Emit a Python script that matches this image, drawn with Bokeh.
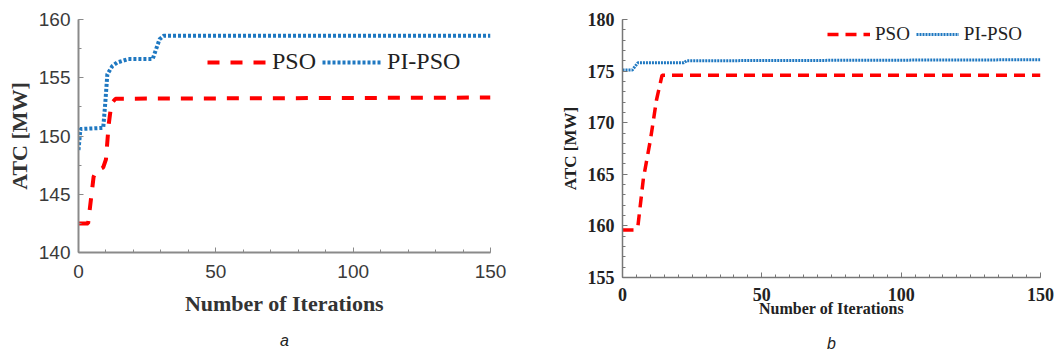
from bokeh.plotting import figure
from bokeh.layouts import row
from bokeh.models import FixedTicker, Legend, LegendItem, Title, Range1d
from bokeh.embed import file_html
from bokeh.resources import INLINE

# ---- panel a data ----
a_pso_x = [0, 3.5, 4.5, 5.5, 6.5, 9, 10, 11, 12, 13.5, 150]
a_pso_y = [142.5, 142.5, 144.5, 146.5, 147.0, 147.3, 148.0, 151.0, 152.8, 153.2, 153.3]
a_pi_x = [0, 0.7, 9, 9.8, 10.5, 12.3, 14, 18, 27, 29.5, 31, 150]
a_pi_y = [148.8, 150.6, 150.7, 153.0, 155.3, 156.0, 156.3, 156.6, 156.6, 158.3, 158.6, 158.6]
a_xticks = [0, 50, 100, 150]
a_yticks = [140, 145, 150, 155, 160]

# ---- panel b data ----
b_pso_x = [0, 4, 5.5, 7.5, 10, 12.2, 14.2, 150]
b_pso_y = [159.6, 159.6, 159.9, 164.6, 168.3, 172.2, 174.6, 174.6]
b_pi_x = [0, 3.5, 5.5, 22, 23, 150]
b_pi_y = [175.1, 175.1, 175.8, 175.8, 176.0, 176.1]
b_xticks = [0, 50, 100, 150]
b_yticks = [155, 160, 165, 170, 175, 180]

series_names = ["PSO", "PI-PSO"]
captions = ["a", "b"]

RED = "#ff0000"
BLUE = "#1f78c1"
SERIF = "Liberation Serif"
SANS = "Liberation Sans"


def style_common(p):
    p.grid.visible = False
    p.outline_line_color = None
    p.background_fill_color = "white"
    p.border_fill_color = "white"
    for ax in (p.xaxis[0], p.yaxis[0]):
        ax.major_tick_in = 5
        ax.major_tick_out = 0
        ax.minor_tick_in = 3
        ax.minor_tick_out = 0


# ---------------- panel a ----------------
pa = figure(width=529, height=357, output_backend="svg", toolbar_location=None,
            x_range=Range1d(0, 150), y_range=Range1d(140, 160),
            min_border_left=78, min_border_right=39, min_border_top=18, min_border_bottom=106)
pa.frame_width = 412
pa.frame_height = 233
style_common(pa)
ra = pa.line(a_pso_x, a_pso_y, line_color=RED, line_width=4, line_dash="12 11")
ba = pa.line(a_pi_x, a_pi_y, line_color=BLUE, line_width=4, line_dash="3 2")
pa.xaxis.ticker = FixedTicker(ticks=a_xticks, minor_ticks=list(range(0, 151, 10)))
pa.yaxis.ticker = FixedTicker(ticks=a_yticks, minor_ticks=[140 + 2.5 * i for i in range(9)])
for ax in (pa.xaxis[0], pa.yaxis[0]):
    ax.axis_line_color = "#8a8a8a"
    ax.axis_line_width = 2
    ax.major_tick_line_color = "#8a8a8a"
    ax.minor_tick_line_color = "#8a8a8a"
    ax.major_label_text_font = SANS
    ax.major_label_text_font_size = "19px"
    ax.major_label_text_color = "#3a3a3a"
    ax.axis_label_text_font = SERIF
    ax.axis_label_text_font_style = "bold"
    ax.axis_label_text_font_size = "22px"
    ax.axis_label_text_color = "#333333"
pa.xaxis.axis_label = "Number of Iterations"
pa.yaxis.axis_label = "ATC [MW]"
pa.xaxis.major_label_standoff = 12
pa.xaxis.axis_label_standoff = 10
pa.yaxis.major_label_standoff = 8
pa.yaxis.axis_label_standoff = 4
leg_a = Legend(items=[LegendItem(label=series_names[0], renderers=[ra]),
                      LegendItem(label=series_names[1], renderers=[ba])],
               orientation="horizontal", location=(129, 177), padding=0, margin=0,
               spacing=6, glyph_width=60, label_standoff=5,
               border_line_alpha=0, background_fill_alpha=0,
               label_text_font=SERIF, label_text_font_size="24px", label_text_color="#222222")
pa.add_layout(leg_a, "center")
pa.add_layout(Title(text=captions[0], align="center", text_font=SANS, text_font_style="italic",
                    text_font_size="16px", text_color="#222222", standoff=23, offset=4), "below")

# ---------------- panel b ----------------
pb = figure(width=529, height=357, output_backend="svg", toolbar_location=None,
            x_range=Range1d(0, 150), y_range=Range1d(155, 180),
            min_border_left=93, min_border_right=18, min_border_top=19, min_border_bottom=80)
pb.frame_width = 418
pb.frame_height = 258
style_common(pb)
rb = pb.line(b_pso_x, b_pso_y, line_color=RED, line_width=3.5, line_dash="11 7")
bb = pb.line(b_pi_x, b_pi_y, line_color=BLUE, line_width=3, line_dash="2 1")
pb.xaxis.ticker = FixedTicker(ticks=b_xticks, minor_ticks=list(range(0, 151, 5)))
pb.yaxis.ticker = FixedTicker(ticks=b_yticks, minor_ticks=list(range(155, 181)))
for ax in (pb.xaxis[0], pb.yaxis[0]):
    ax.axis_line_color = "#777777"
    ax.axis_line_width = 1.5
    ax.major_tick_line_color = "#777777"
    ax.minor_tick_line_color = "#777777"
    ax.major_label_text_font = SERIF
    ax.major_label_text_font_style = "bold"
    ax.major_label_text_font_size = "18px"
    ax.major_label_text_color = "#222222"
    ax.axis_label_text_font = SERIF
    ax.axis_label_text_font_style = "bold"
    ax.axis_label_text_color = "#222222"
pb.xaxis.axis_label = "Number of Iterations"
pb.yaxis.axis_label = "ATC [MW]"
pb.xaxis.axis_label_text_font_size = "16px"
pb.yaxis.axis_label_text_font_size = "17px"
pb.xaxis.major_label_standoff = 10
pb.xaxis.axis_label_standoff = -4
pb.yaxis.major_label_standoff = 8
pb.yaxis.axis_label_standoff = 5
leg_b = Legend(items=[LegendItem(label=series_names[0], renderers=[rb]),
                      LegendItem(label=series_names[1], renderers=[bb])],
               orientation="horizontal", location=(205, 232), padding=0, margin=0,
               spacing=6, glyph_width=43, label_standoff=5,
               border_line_alpha=0, background_fill_alpha=0,
               label_text_font=SERIF, label_text_font_size="19px", label_text_color="#222222")
pb.add_layout(leg_b, "center")
pb.add_layout(Title(text=captions[1], align="center", text_font=SANS, text_font_style="italic",
                    text_font_size="16px", text_color="#222222", standoff=26, offset=-8), "below")

layout = row(pa, pb, spacing=0)
open("out.html", "w").write(file_html(layout, INLINE))
